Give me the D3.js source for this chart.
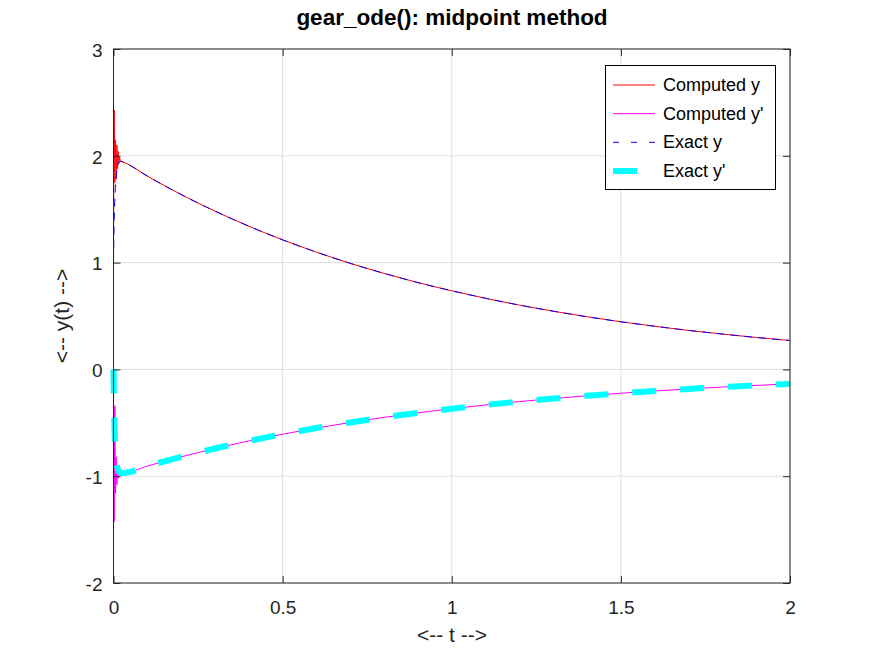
<!DOCTYPE html>
<html>
<head>
<meta charset="utf-8">
<script src="https://cdn.jsdelivr.net/npm/d3@7"></script>
<style>
  body { margin: 0; background: #fff; }
  svg text { font-family: "Liberation Sans", Arial, sans-serif; }
</style>
</head>
<body>
<svg width="873" height="655"></svg>
<script>

// start-up transient, computed with the midpoint method (step 0.002)
var tStart        = [0, 0.002, 0.004, 0.006, 0.008, 0.010, 0.012, 0.014, 0.016, 0.018, 0.020];
var compYStart    = [1.0, 2.43, 1.75, 2.15, 1.78, 2.10, 1.88, 2.04, 1.93, 1.99, 1.95];
var compDYStart   = [0, -1.43, -0.34, -1.16, -0.82, -1.08, -0.90, -1.02, -0.94, -0.99, -0.96];

// start-up of the exact solution
var tExactStart   = [0, 0.001, 0.002, 0.003, 0.005, 0.0075, 0.01, 0.013, 0.017, 0.022];
var exactYStart   = [1.0, 1.25, 1.40, 1.51, 1.67, 1.79, 1.86, 1.91, 1.94, 1.95];
var exactDYStart  = [0, -0.25, -0.43, -0.55, -0.72, -0.84, -0.90, -0.94, -0.96, -0.97];

// smooth part, where computed and exact curves lie on top of each other
var tTail   = [0.03, 0.1, 0.2, 0.3, 0.4, 0.5, 0.6, 0.7, 0.8, 0.9, 1.0,
               1.1, 1.2, 1.3, 1.4, 1.5, 1.6, 1.7, 1.8, 1.9, 2.0];
var yTail   = [1.94, 1.810, 1.637, 1.482, 1.341, 1.213, 1.098, 0.993, 0.899, 0.813, 0.736,
               0.666, 0.602, 0.545, 0.493, 0.446, 0.404, 0.365, 0.331, 0.299, 0.271];
var dyTail  = [-0.97, -0.905, -0.819, -0.741, -0.670, -0.607, -0.549, -0.497, -0.449, -0.407, -0.368,
               -0.333, -0.301, -0.273, -0.247, -0.223, -0.202, -0.183, -0.165, -0.150, -0.135];

var xTicks  = [0, 0.5, 1, 1.5, 2];
var yTicks  = [-2, -1, 0, 1, 2, 3];
var legendLabels = ["Computed y", "Computed y'", "Exact y", "Exact y'"];


var svg = d3.select("svg");

// note: "top" is taken by window.top, so plot edges get their own names
var plotL = 113.5, plotR = 790, plotT = 49, plotB = 583;

var x = d3.scaleLinear().domain([0, 2]).range([plotL, plotR]);
var y = d3.scaleLinear().domain([-2, 3]).range([plotB, plotT]);

var axisColor = "#262626";

// plain hyphen minus, like the original
var tickFmt = function(d) { return String(d); };

// zip t and value arrays into points
function zip(ts, vs) {
  return ts.map(function(t, i) { return [t, vs[i]]; });
}

var series = [
  { name: legendLabels[0], color: "#ff0000", width: 1, dash: null,
    legendDash: null, pts: zip(tStart.concat(tTail), compYStart.concat(yTail)) },
  { name: legendLabels[1], color: "#ff00ff", width: 1, dash: null,
    legendDash: null, pts: zip(tStart.concat(tTail), compDYStart.concat(dyTail)) },
  { name: legendLabels[2], color: "#0000ff", width: 1, dash: "8,6",
    legendDash: "6,12", pts: zip(tExactStart.concat(tTail), exactYStart.concat(yTail)) },
  { name: legendLabels[3], color: "#00ffff", width: 6, dash: "24,24",
    legendDash: "24,24", pts: zip(tExactStart.concat(tTail), exactDYStart.concat(dyTail)) }
];


/* grid */
var grid = svg.append("g").attr("class", "grid");

grid.selectAll("line.gx").data(xTicks).enter().append("line")
    .attr("x1", function(d) { return x(d); })
    .attr("x2", function(d) { return x(d); })
    .attr("y1", plotT)
    .attr("y2", plotB)
    .attr("stroke", "#dedede")
    .attr("stroke-width", 1);

grid.selectAll("line.gy").data(yTicks).enter().append("line")
    .attr("x1", plotL)
    .attr("x2", plotR)
    .attr("y1", function(d) { return y(d); })
    .attr("y2", function(d) { return y(d); })
    .attr("stroke", "#dedede")
    .attr("stroke-width", 1);


/* data lines */
var line = d3.line()
             .x(function(d) { return x(d[0]); })
             .y(function(d) { return y(d[1]); })
             .curve(d3.curveMonotoneX);

svg.append("g").attr("class", "lines")
   .selectAll("path").data(series).enter().append("path")
   .attr("d", function(s) { return line(s.pts); })
   .attr("fill", "none")
   .attr("stroke", function(s) { return s.color; })
   .attr("stroke-width", function(s) { return s.width; })
   .attr("stroke-dasharray", function(s) { return s.dash; });


/* axes: inward ticks on all four sides, labels on left and bottom */
function styleAxis(g) {
  g.select(".domain").remove();
  g.selectAll(".tick line").attr("stroke", axisColor);
  g.selectAll(".tick text")
   .attr("fill", axisColor)
   .attr("font-size", 19)
   .attr("font-family", "Liberation Sans, Arial, sans-serif");
}

svg.append("g")
   .attr("transform", "translate(0," + plotB + ")")
   .call(d3.axisBottom(x).tickValues(xTicks).tickFormat(tickFmt).tickSizeInner(-7).tickSizeOuter(0).tickPadding(18))
   .call(styleAxis);

svg.append("g")
   .attr("transform", "translate(0," + plotT + ")")
   .call(d3.axisTop(x).tickValues(xTicks).tickFormat("").tickSizeInner(-7).tickSizeOuter(0))
   .call(styleAxis);

svg.append("g")
   .attr("transform", "translate(" + plotL + ",0)")
   .call(d3.axisLeft(y).tickValues(yTicks).tickFormat(tickFmt).tickSizeInner(-7).tickSizeOuter(0).tickPadding(11))
   .call(styleAxis)
   .selectAll(".tick text").attr("dy", "0.38em");

svg.append("g")
   .attr("transform", "translate(" + plotR + ",0)")
   .call(d3.axisRight(y).tickValues(yTicks).tickFormat("").tickSizeInner(-7).tickSizeOuter(0))
   .call(styleAxis);

svg.append("rect")
   .attr("x", plotL)
   .attr("y", plotT)
   .attr("width", plotR - plotL)
   .attr("height", plotB - plotT)
   .attr("fill", "none")
   .attr("stroke", axisColor)
   .attr("stroke-width", 1);


/* title and axis labels */
svg.append("text")
   .attr("x", 452)
   .attr("y", 25)
   .attr("text-anchor", "middle")
   .attr("font-size", 22.5)
   .attr("font-weight", "bold")
   .attr("fill", "#000")
   .text("gear_ode(): midpoint method");

svg.append("text")
   .attr("x", 452)
   .attr("y", 642)
   .attr("text-anchor", "middle")
   .attr("font-size", 21)
   .attr("fill", axisColor)
   .text("<-- t -->");

svg.append("text")
   .attr("transform", "translate(69,316) rotate(-90)")
   .attr("text-anchor", "middle")
   .attr("font-size", 21)
   .attr("fill", axisColor)
   .text("<-- y(t) -->");


/* legend */
var legend = svg.append("g").attr("class", "legend");

legend.append("rect")
      .attr("x", 605.5)
      .attr("y", 65.5)
      .attr("width", 170)
      .attr("height", 124)
      .attr("fill", "#fff")
      .attr("stroke", "#000")
      .attr("stroke-width", 1);

var rowY = d3.scalePoint().domain(legendLabels).range([85, 171]);

var rows = legend.selectAll("g.row").data(series).enter().append("g")
                 .attr("class", "row")
                 .attr("transform", function(s) { return "translate(0," + rowY(s.name) + ")"; });

rows.append("line")
    .attr("x1", 613)
    .attr("x2", 655)
    .attr("y1", 0)
    .attr("y2", 0)
    .attr("stroke", function(s) { return s.color; })
    .attr("stroke-width", function(s) { return s.width; })
    .attr("stroke-dasharray", function(s) { return s.legendDash; });

rows.append("text")
    .attr("x", 663)
    .attr("y", 6)
    .attr("font-size", 18)
    .attr("fill", "#000")
    .text(function(s) { return s.name; });

</script>
</body>
</html>
